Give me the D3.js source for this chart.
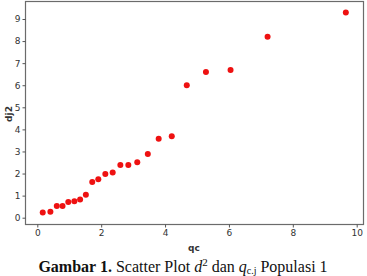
<!DOCTYPE html>
<html>
<head>
<meta charset="utf-8">
<script src="https://cdn.jsdelivr.net/npm/d3@7"></script>
<style>
  body { margin: 0; background: #fff; overflow: hidden; }
  svg { display: block; }
  .tick text { font-family: "DejaVu Sans", sans-serif; font-size: 9px; fill: #333; }
</style>
</head>
<body>
<svg id="chart" width="367" height="276"></svg>
<script>
const qc = [0.17, 0.41, 0.61, 0.79, 0.97, 1.16, 1.34, 1.52, 1.72, 1.91, 2.13, 2.36, 2.60, 2.85, 3.13, 3.46, 3.80, 4.21, 4.68, 5.28, 6.05, 7.21, 9.66];
const dj2 = [0.24, 0.27, 0.53, 0.53, 0.71, 0.74, 0.83, 1.04, 1.62, 1.74, 1.98, 2.05, 2.39, 2.39, 2.51, 2.89, 3.58, 3.69, 6.00, 6.60, 6.69, 8.20, 9.30];
const xTicks = [0, 2, 4, 6, 8, 10];
const yTicks = [0, 1, 2, 3, 4, 5, 6, 7, 8, 9];

const svg = d3.select("#chart");
const frame = { left: 25.5, top: 1.5, right: 363.5, bottom: 224.5 };

const x = d3.scaleLinear().domain([0, 10]).range([37.3, 356.7]);
const y = d3.scaleLinear().domain([0, 9]).range([217.7, 19]);

svg.append("rect")
	.attr("x", frame.left)
	.attr("y", frame.top)
	.attr("width", frame.right - frame.left)
	.attr("height", frame.bottom - frame.top)
	.attr("fill", "none")
	.attr("stroke", "#6b6b6b")
	.attr("stroke-width", 1.2);

const xAxis = svg.append("g")
	.attr("transform", `translate(0, ${frame.bottom})`)
	.call(d3.axisBottom(x).tickValues(xTicks).tickSize(3).tickPadding(2));
const yAxis = svg.append("g")
	.attr("transform", `translate(${frame.left}, 0)`)
	.call(d3.axisLeft(y).tickValues(yTicks).tickSize(3).tickPadding(2));
[xAxis, yAxis].forEach(a => {
	a.select(".domain").remove();
	a.selectAll(".tick line").attr("stroke", "#555");
});

svg.selectAll("circle")
	.data(qc)
	.enter()
	.append("circle")
	.attr("cx", d => x(d))
	.attr("cy", (d, i) => y(dj2[i]))
	.attr("r", 3)
	.attr("fill", "#ee1111");

svg.append("text")
	.attr("x", 194)
	.attr("y", 251)
	.attr("text-anchor", "middle")
	.attr("font-family", "DejaVu Sans, sans-serif")
	.attr("font-size", 9)
	.attr("font-weight", "bold")
	.attr("fill", "#333")
	.text("qc");

svg.append("text")
	.attr("transform", "translate(12, 114) rotate(-90)")
	.attr("text-anchor", "middle")
	.attr("font-family", "DejaVu Sans, sans-serif")
	.attr("font-size", 9)
	.attr("font-weight", "bold")
	.attr("fill", "#333")
	.text("dj2");

// caption nudged up a little so it stays fully inside the picture
const caption = svg.append("text")
	.attr("x", 183)
	.attr("y", 272)
	.attr("text-anchor", "middle")
	.attr("font-family", "Liberation Serif, serif")
	.attr("font-size", 16)
	.attr("fill", "#111");
caption.append("tspan").attr("font-weight", "bold").text("Gambar 1. ");
caption.append("tspan").text("Scatter Plot ");
caption.append("tspan").attr("font-style", "italic").text("d");
caption.append("tspan").attr("font-size", 11).attr("dy", -6).text("2");
caption.append("tspan").attr("dy", 6).text(" dan ");
caption.append("tspan").attr("font-style", "italic").text("q");
caption.append("tspan").attr("font-size", 10).attr("dy", 2).text("c.j");
caption.append("tspan").attr("dy", -2).text(" Populasi 1");
</script>
</body>
</html>
